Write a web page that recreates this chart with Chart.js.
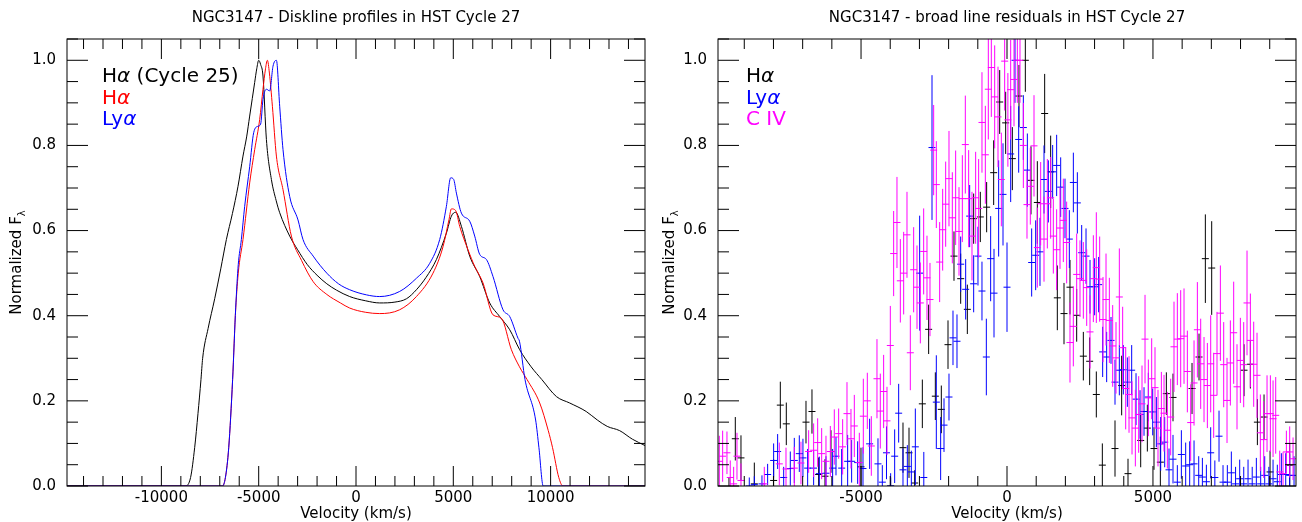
<!DOCTYPE html>
<html>
<head>
<meta charset="utf-8">
<script src="https://cdn.jsdelivr.net/npm/chart.js@4.4.1/dist/chart.umd.min.js"></script>
<style>
  html, body { margin: 0; padding: 0; background: #fff; }
  #wrap { display: flex; width: 1302px; height: 522px; }
  canvas { display: block; }
</style>
</head>
<body>
<div id="wrap">
  <canvas id="disk" width="651" height="522"></canvas>
  <canvas id="resid" width="651" height="522"></canvas>
</div>
<script>
// ---- diskline profiles (left) ----
const haC25Vel = [-14850, -8900, -8770, -8500, -8290, -8120, -7966, -7880, -7600, -7260, -6950, -6660, -6350, -6063, -5807, -5620, -5463, -5330, -5206, -5100, -5000, -4900, -4779, -4604, -4347, -4100, -3921, -3407, -3000, -2500, -2000, -1500, -1000, -324, 500, 1218, 2000, 2600, 3104, 3600, 4132, 4645, 4902, 5123, 5416, 5843, 6357, 6871, 7384, 7899, 8412, 9000, 9550, 10300, 10980, 11830, 12400, 12910, 13550, 14200, 14850];
const haC25Flux = [0, 0, 0, 0.02, 0.09, 0.17, 0.25, 0.30, 0.37, 0.44, 0.51, 0.579, 0.64, 0.704, 0.775, 0.82, 0.869, 0.91, 0.948, 0.98, 1.0, 0.99, 0.963, 0.814, 0.72, 0.67, 0.642, 0.587, 0.555, 0.52, 0.495, 0.475, 0.46, 0.445, 0.435, 0.43, 0.432, 0.44, 0.461, 0.49, 0.532, 0.594, 0.634, 0.643, 0.61, 0.54, 0.492, 0.43, 0.398, 0.367, 0.32, 0.28, 0.25, 0.21, 0.195, 0.175, 0.155, 0.14, 0.13, 0.11, 0.095];

const haVel = [-14850, -6860, -6710, -6540, -6340, -6200, -6050, -5807, -5463, -5206, -4949, -4779, -4650, -4553, -4450, -4296, -4090, -3750, -3320, -2800, -2200, -1500, -800, -324, 500, 1218, 2245, 3104, 3957, 4471, 4779, 4902, 5123, 5329, 5755, 6100, 6526, 7040, 7472, 7986, 8400, 8790, 9440, 9880, 10100, 10420, 10630, 14850];
const haFlux = [0, 0, 0.02, 0.09, 0.25, 0.4, 0.5, 0.579, 0.712, 0.79, 0.861, 0.932, 0.98, 1.0, 0.97, 0.892, 0.775, 0.696, 0.587, 0.53, 0.48, 0.45, 0.43, 0.418, 0.408, 0.405, 0.414, 0.445, 0.5, 0.562, 0.626, 0.651, 0.647, 0.61, 0.555, 0.516, 0.477, 0.402, 0.394, 0.32, 0.28, 0.25, 0.195, 0.13, 0.09, 0.02, 0, 0];

const lyaVel = [-14850, -6860, -6710, -6540, -6340, -6180, -6050, -5890, -5720, -5463, -5257, -5036, -4900, -4779, -4604, -4435, -4265, -4090, -3921, -3750, -3407, -2980, -2724, -2200, -1500, -900, -324, 534, 1218, 2245, 3104, 3787, 4301, 4645, 4866, 5020, 5159, 5416, 5843, 6100, 6357, 6701, 7040, 7554, 7899, 8325, 8400, 8685, 9230, 9400, 9620, 14850];
const lyaFlux = [0, 0, 0.02, 0.09, 0.25, 0.42, 0.52, 0.579, 0.657, 0.75, 0.83, 0.845, 0.85, 0.908, 0.932, 0.928, 0.986, 1.0, 0.892, 0.79, 0.68, 0.625, 0.579, 0.54, 0.5, 0.475, 0.461, 0.449, 0.445, 0.457, 0.488, 0.523, 0.579, 0.657, 0.724, 0.72, 0.688, 0.641, 0.622, 0.587, 0.544, 0.532, 0.492, 0.414, 0.398, 0.347, 0.34, 0.25, 0.155, 0.09, 0, 0];

const diskTicks = [-10000, -5000, 0, 5000, 10000];

// ---- broad line residuals (right) ----
const resHaVel = [-9524, -9307, -9113, -8656, -7994, -7765, -7560, -6886, -6681, -6452, -6235, -6030, -5002, -3986, -3563, -3357, -3163, -2900, -2684, -2455, -2250, -2021, -1816, -1587, -1359, -1142, -914, -697, -457, -251, -46, 183, 411, 628, 822, 1039, 1290, 1496, 1724, 1953, 2158, 2387, 2615, 2832, 3060, 3266, 3700, 3928, 4145, 4580, 4808, 5036, 5253, 5459, 5687, 6338, 6578, 6795, 7012, 8120, 8337, 8577, 8805, 9011, 9684];
const resHaFlux = [-0.01, 0.111, 0.066, 0.005, 0.013, 0.19, 0.146, 0.15, 0.175, 0.027, 0.023, 0.081, 0.045, 0.0, 0.09, 0.078, 0.007, 0.193, 0.368, 0.211, 0.18, 0.332, 0.54, 0.487, 0.415, 0.628, 0.632, 0.655, 0.736, 0.902, 0.853, 0.769, 0.916, 1.0, 0.718, 0.666, 0.875, 0.738, 0.442, 0.405, 0.467, 0.401, 0.305, 0.293, 0.215, 0.049, 0.088, 0.236, 0.029, 0.107, 0.136, 0.088, 0.056, 0.217, 0.208, 0.229, 0.303, 0.534, 0.512, 0.272, 0.286, 0.15, 0.162, 0.033, 0.049];
const resHaErr = [0.03, 0.051, 0.053, 0.05, 0.05, 0.055, 0.05, 0.05, 0.052, 0.04, 0.04, 0.05, 0.045, 0.02, 0.059, 0.059, 0.03, 0.057, 0.058, 0.056, 0.056, 0.057, 0.058, 0.059, 0.058, 0.059, 0.059, 0.059, 0.076, 0.075, 0.073, 0.074, 0.073, 0.074, 0.08, 0.097, 0.093, 0.085, 0.076, 0.072, 0.064, 0.062, 0.057, 0.056, 0.054, 0.051, 0.066, 0.07, 0.035, 0.063, 0.055, 0.05, 0.06, 0.05, 0.056, 0.06, 0.055, 0.104, 0.11, 0.061, 0.057, 0.054, 0.053, 0.05, 0.05];

const resLyaVel = [-8828, -8656, -8394, -8200, -7994, -7857, -7650, -7423, -7286, -7115, -6990, -6829, -6624, -6429, -6201, -5973, -5858, -5664, -5459, -5322, -5116, -4933, -4705, -4420, -4271, -4128, -3986, -3848, -3711, -3563, -3414, -3277, -3140, -2992, -2850, -2569, -2421, -2273, -2158, -1987, -1850, -1713, -1587, -1416, -1279, -1142, -994, -857, -708, -560, -445, -286, -137, 0, 126, 274, 400, 560, 697, 845, 982, 1130, 1268, 1416, 1564, 1701, 1839, 1987, 2135, 2273, 2410, 2558, 2707, 2844, 3003, 3140, 3277, 3414, 3563, 3700, 3848, 3985, 4122, 4271, 4420, 4557, 4694, 4842, 4991, 5116, 5265, 5402, 5550, 5687, 5835, 5973, 6121, 6258, 6407, 6567, 6693, 6830, 6977, 7120, 7263, 7400, 7548, 7685, 7830, 7971, 8110, 8257, 8400, 8542, 8690, 8828, 8970, 9114, 9260, 9399, 9548, 9684, 9833];
const resLyaFlux = [0.0, 0.003, 0.005, 0.027, 0.06, 0.081, 0.02, 0.041, 0.06, 0.076, 0.066, 0.042, 0.042, 0.029, 0.03, 0.042, 0.07, 0.042, 0.058, 0.058, 0.055, 0.041, 0.099, 0.052, 0.009, 0.078, 0.0, 0.07, 0.171, 0.038, 0.046, 0.033, 0.092, 0.5, 0.02, 0.795, 0.197, 0.088, 0.143, 0.209, 0.348, 0.34, 0.521, 0.462, 0.634, 0.475, 0.54, 0.458, 0.303, 0.534, 0.453, 0.652, 0.685, 0.467, 0.78, 1.0, 0.814, 0.842, 0.742, 0.525, 0.542, 0.55, 0.72, 0.692, 0.738, 0.753, 0.702, 0.652, 0.58, 0.713, 0.665, 0.548, 0.54, 0.468, 0.468, 0.473, 0.315, 0.303, 0.342, 0.244, 0.272, 0.273, 0.244, 0.272, 0.204, 0.168, 0.175, 0.209, 0.174, 0.15, 0.099, 0.103, 0.038, 0.063, 0.009, 0.074, 0.047, 0.05, 0.052, 0.025, 0.021, 0.01, 0.078, 0.02, 0.117, 0.009, 0.009, 0.031, 0.005, 0.017, 0.005, 0.017, 0.005, 0.021, 0.005, 0.025, 0.005, 0.017, 0.01, 0.027, 0.027, 0.025, 0.025];
const resLyaErr = [0.02, 0.02, 0.02, 0.025, 0.04, 0.041, 0.025, 0.04, 0.053, 0.043, 0.045, 0.045, 0.04, 0.04, 0.04, 0.045, 0.045, 0.045, 0.062, 0.05, 0.05, 0.05, 0.059, 0.06, 0.04, 0.062, 0.03, 0.063, 0.069, 0.05, 0.05, 0.05, 0.09, 0.135, 0.06, 0.17, 0.11, 0.074, 0.063, 0.055, 0.064, 0.063, 0.065, 0.071, 0.073, 0.067, 0.069, 0.069, 0.09, 0.1, 0.104, 0.113, 0.12, 0.105, 0.113, 0.1, 0.078, 0.076, 0.086, 0.08, 0.082, 0.08, 0.08, 0.073, 0.063, 0.072, 0.07, 0.07, 0.068, 0.07, 0.072, 0.065, 0.065, 0.063, 0.067, 0.065, 0.059, 0.059, 0.055, 0.053, 0.059, 0.058, 0.058, 0.059, 0.061, 0.057, 0.057, 0.057, 0.055, 0.059, 0.063, 0.059, 0.05, 0.057, 0.04, 0.057, 0.055, 0.055, 0.055, 0.045, 0.045, 0.04, 0.06, 0.04, 0.06, 0.04, 0.04, 0.05, 0.04, 0.045, 0.04, 0.045, 0.04, 0.045, 0.04, 0.045, 0.04, 0.045, 0.04, 0.05, 0.05, 0.05, 0.045];

const resCivVel = [-9855, -9741, -9593, -9480, -9364, -9250, -9113, -8314, -7800, -7571, -7286, -7058, -6795, -6624, -6486, -6349, -6201, -6052, -5916, -5767, -5630, -5481, -5345, -5230, -5059, -4922, -4785, -4648, -4454, -4340, -4226, -4111, -3997, -3883, -3769, -3654, -3540, -3426, -3312, -3198, -3083, -2969, -2855, -2741, -2638, -2512, -2421, -2307, -2204, -2101, -1987, -1873, -1759, -1644, -1530, -1428, -1313, -1199, -1074, -971, -857, -742, -640, -537, -422, -308, -194, -80, 30, 126, 240, 354, 445, 560, 685, 799, 925, 1039, 1153, 1268, 1382, 1496, 1587, 1701, 1816, 1930, 2044, 2158, 2272, 2387, 2501, 2615, 2730, 2844, 2958, 3060, 3175, 3289, 3392, 3506, 3620, 3734, 3848, 3962, 4066, 4180, 4283, 4397, 4511, 4625, 4728, 4842, 4956, 5070, 5173, 5288, 5379, 5493, 5607, 5721, 5835, 5950, 6064, 6178, 6292, 6407, 6521, 6635, 6749, 6864, 6978, 7080, 7194, 7309, 7423, 7537, 7651, 7765, 7879, 7994, 8108, 8222, 8337, 8451, 8565, 8679, 8794, 8908, 9022, 9114, 9205, 9342, 9456, 9570, 9684, 9799];
const resCivFlux = [0.058, 0.07, 0.078, 0.02, 0.005, 0.07, 0.013, 0.005, 0.052, 0.04, 0.042, 0.054, 0.081, 0.084, 0.102, 0.076, 0.058, 0.081, 0.115, 0.123, 0.092, 0.17, 0.111, 0.141, 0.055, 0.164, 0.2, 0.094, 0.252, 0.176, 0.222, 0.153, 0.33, 0.546, 0.619, 0.482, 0.5, 0.59, 0.313, 0.508, 0.467, 0.43, 0.551, 0.489, 0.438, 0.789, 0.708, 0.526, 0.602, 0.662, 0.722, 0.63, 0.677, 0.598, 0.675, 0.802, 0.675, 0.587, 0.677, 0.652, 0.854, 0.778, 0.932, 0.983, 0.914, 0.867, 0.72, 0.998, 0.86, 0.931, 0.955, 1.0, 1.0, 0.8, 0.661, 0.704, 0.799, 0.56, 0.663, 0.58, 0.663, 0.677, 0.587, 0.555, 0.606, 0.624, 0.572, 0.337, 0.375, 0.497, 0.487, 0.483, 0.466, 0.362, 0.487, 0.513, 0.486, 0.391, 0.438, 0.389, 0.329, 0.301, 0.444, 0.325, 0.229, 0.215, 0.16, 0.136, 0.168, 0.193, 0.345, 0.207, 0.252, 0.231, 0.136, 0.182, 0.171, 0.131, 0.162, 0.327, 0.345, 0.346, 0.352, 0.269, 0.149, 0.242, 0.367, 0.287, 0.25, 0.236, 0.287, 0.213, 0.311, 0.406, 0.285, 0.201, 0.289, 0.36, 0.233, 0.295, 0.285, 0.43, 0.342, 0.286, 0.26, 0.125, 0.109, 0.17, 0.17, 0.158, 0.166, 0.033, 0.029, 0.08, 0.08, 0.064];
const resCivErr = [0.06, 0.06, 0.05, 0.04, 0.04, 0.055, 0.04, 0.04, 0.05, 0.05, 0.05, 0.05, 0.05, 0.063, 0.057, 0.06, 0.06, 0.06, 0.065, 0.059, 0.065, 0.074, 0.07, 0.073, 0.07, 0.088, 0.066, 0.07, 0.093, 0.088, 0.086, 0.08, 0.093, 0.1, 0.107, 0.098, 0.097, 0.101, 0.088, 0.1, 0.098, 0.095, 0.101, 0.099, 0.086, 0.106, 0.102, 0.094, 0.096, 0.1, 0.112, 0.107, 0.111, 0.104, 0.102, 0.115, 0.114, 0.104, 0.108, 0.116, 0.118, 0.115, 0.118, 0.116, 0.121, 0.118, 0.11, 0.116, 0.11, 0.117, 0.11, 0.1, 0.1, 0.1, 0.08, 0.09, 0.119, 0.094, 0.098, 0.1, 0.105, 0.096, 0.088, 0.095, 0.096, 0.098, 0.096, 0.094, 0.094, 0.096, 0.09, 0.09, 0.09, 0.086, 0.102, 0.13, 0.1, 0.1, 0.108, 0.1, 0.096, 0.084, 0.114, 0.096, 0.096, 0.09, 0.086, 0.09, 0.09, 0.09, 0.104, 0.09, 0.095, 0.095, 0.09, 0.086, 0.09, 0.09, 0.09, 0.106, 0.108, 0.114, 0.112, 0.096, 0.09, 0.1, 0.112, 0.106, 0.1, 0.1, 0.114, 0.1, 0.098, 0.112, 0.1, 0.1, 0.1, 0.12, 0.1, 0.1, 0.1, 0.123, 0.11, 0.1, 0.1, 0.09, 0.09, 0.09, 0.09, 0.09, 0.09, 0.05, 0.05, 0.05, 0.06, 0.05];

const residTicks = [-5000, 0, 5000];
const fluxTicks = [0, 0.2, 0.4, 0.6, 0.8, 1.0];

const FONT = "'DejaVu Sans', 'Liberation Sans', sans-serif";

const toXY = (vel, flux) => vel.map((v, i) => ({ x: v, y: flux[i] }));

// IDL-style frame: box round the plot area, inward ticks on all four sides,
// plus the title, axis titles and the coloured labels
const idlFrame = {
  id: 'idlFrame',
  afterDraw(chart, args, opts) {
    const { ctx, chartArea: a, scales: { x, y } } = chart;
    ctx.save();
    ctx.strokeStyle = '#000';
    ctx.lineWidth = 1;
    ctx.beginPath();
    for (let v = Math.ceil(x.min / 1000) * 1000; v <= x.max; v += 1000) {
      const px = x.getPixelForValue(v);
      const len = v % 5000 === 0 ? 20 : 10;
      ctx.moveTo(px, a.bottom); ctx.lineTo(px, a.bottom - len);
      ctx.moveTo(px, a.top); ctx.lineTo(px, a.top + len);
    }
    for (let i = 0; i * 0.05 <= y.max + 1e-9; i++) {
      const py = y.getPixelForValue(i * 0.05);
      const len = i % 4 === 0 ? 21 : 11;
      ctx.moveTo(a.left, py); ctx.lineTo(a.left + len, py);
      ctx.moveTo(a.right, py); ctx.lineTo(a.right - len, py);
    }
    ctx.stroke();
    ctx.strokeRect(a.left, a.top, a.right - a.left, a.bottom - a.top);

    ctx.fillStyle = '#000';
    ctx.textAlign = 'center';
    ctx.textBaseline = 'alphabetic';
    ctx.font = '15px ' + FONT;
    const cx = (a.left + a.right) / 2;
    ctx.fillText(opts.title, cx, 22);
    ctx.fillText('Velocity (km/s)', cx, 518);

    // y title with subscript lambda
    ctx.save();
    ctx.translate(opts.yTitleX, (a.top + a.bottom) / 2);
    ctx.rotate(-Math.PI / 2);
    const main = 'Normalized F';
    ctx.font = '15px ' + FONT;
    const w1 = ctx.measureText(main).width;
    ctx.font = '10px ' + FONT;
    const w2 = ctx.measureText('λ').width;
    ctx.textAlign = 'left';
    ctx.textBaseline = 'middle';
    ctx.font = '15px ' + FONT;
    ctx.fillText(main, -(w1 + w2) / 2, 0);
    ctx.font = '10px ' + FONT;
    ctx.fillText('λ', -(w1 + w2) / 2 + w1, 5);
    ctx.restore();

    // labels
    ctx.textAlign = 'left';
    ctx.textBaseline = 'alphabetic';
    opts.labels.forEach((lab, k) => {
      let px = a.left + opts.labelDx;
      const py = 82 + k * 21.5;
      ctx.fillStyle = lab.color;
      lab.parts.forEach(([txt, italic]) => {
        ctx.font = (italic ? 'italic ' : '') + '20px ' + FONT;
        ctx.fillText(txt, px, py);
        px += ctx.measureText(txt).width;
      });
    });
    ctx.restore();
  }
};

// vertical error bars, drawn right after each dataset's markers
const errorBars = {
  id: 'errorBars',
  afterDatasetDraw(chart, args) {
    const ds = chart.data.datasets[args.index];
    if (!ds.errors) return;
    const { ctx, chartArea: a, scales: { x, y } } = chart;
    ctx.save();
    ctx.beginPath();
    ctx.rect(a.left, a.top, a.right - a.left, a.bottom - a.top);
    ctx.clip();
    ctx.strokeStyle = ds.borderColor;
    ctx.lineWidth = 1;
    ctx.beginPath();
    ds.data.forEach((p, i) => {
      const px = x.getPixelForValue(p.x);
      ctx.moveTo(px, y.getPixelForValue(p.y - ds.errors[i]));
      ctx.lineTo(px, y.getPixelForValue(p.y + ds.errors[i]));
    });
    ctx.stroke();
    ctx.restore();
  }
};

function axes(xmin, xmax, xTicks) {
  const tickFont = { family: FONT, size: 15 };
  return {
    x: {
      type: 'linear', min: xmin, max: xmax,
      grid: { display: false, drawTicks: false },
      border: { display: false },
      ticks: { color: '#000', font: tickFont, padding: 3, maxRotation: 0, autoSkip: false,
               callback: v => String(v) },
      afterBuildTicks: s => { s.ticks = xTicks.map(v => ({ value: v })); },
      afterFit: s => { s.height = 36; }
    },
    y: {
      type: 'linear', min: 0, max: 1.05,
      grid: { display: false, drawTicks: false },
      border: { display: false },
      ticks: { color: '#000', font: tickFont, padding: 11, autoSkip: false,
               callback: v => v.toFixed(1) },
      afterBuildTicks: s => { s.ticks = fluxTicks.map(v => ({ value: v })); },
      afterFit: s => { s.width = 67; }
    }
  };
}

function lineSet(label, vel, flux, color, order) {
  return { label, data: toXY(vel, flux), borderColor: color, borderWidth: 1,
           showLine: true, pointRadius: 0, cubicInterpolationMode: 'monotone', order };
}

function errSet(label, vel, flux, err, color, order) {
  return { label, data: toXY(vel, flux), errors: err, borderColor: color,
           pointStyle: 'line', pointRadius: 3.5, pointBorderColor: color,
           pointBorderWidth: 1, showLine: false, order };
}

const common = {
  responsive: false,
  animation: false,
  devicePixelRatio: 1,
  layout: { padding: { left: 0, top: 39, right: 6, bottom: 0 } },
  events: []
};

new Chart(document.getElementById('disk'), {
  type: 'scatter',
  data: {
    datasets: [
      lineSet('Hα (Cycle 25)', haC25Vel, haC25Flux, '#000000', 2),
      lineSet('Hα', haVel, haFlux, '#ff0000', 1),
      lineSet('Lyα', lyaVel, lyaFlux, '#0000ff', 0)
    ]
  },
  options: {
    ...common,
    scales: axes(-14850, 14850, diskTicks),
    plugins: {
      legend: { display: false },
      tooltip: { enabled: false },
      idlFrame: {
        title: 'NGC3147 - Diskline profiles in HST Cycle 27',
        yTitleX: 17,
        labelDx: 35,
        labels: [
          { color: '#000000', parts: [['H', false], ['α', true], [' (Cycle 25)', false]] },
          { color: '#ff0000', parts: [['H', false], ['α', true]] },
          { color: '#0000ff', parts: [['Ly', false], ['α', true]] }
        ]
      }
    }
  },
  plugins: [idlFrame]
});

new Chart(document.getElementById('resid'), {
  type: 'scatter',
  data: {
    datasets: [
      errSet('Hα', resHaVel, resHaFlux, resHaErr, '#000000', 2),
      errSet('Lyα', resLyaVel, resLyaFlux, resLyaErr, '#0000ff', 1),
      errSet('C IV', resCivVel, resCivFlux, resCivErr, '#ff00ff', 0)
    ]
  },
  options: {
    ...common,
    scales: axes(-9900, 9900, residTicks),
    plugins: {
      legend: { display: false },
      tooltip: { enabled: false },
      idlFrame: {
        title: 'NGC3147 - broad line residuals in HST Cycle 27',
        yTitleX: 19,
        labelDx: 28,
        labels: [
          { color: '#000000', parts: [['H', false], ['α', true]] },
          { color: '#0000ff', parts: [['Ly', false], ['α', true]] },
          { color: '#ff00ff', parts: [['C IV', false]] }
        ]
      }
    }
  },
  plugins: [errorBars, idlFrame]
});
</script>
</body>
</html>
